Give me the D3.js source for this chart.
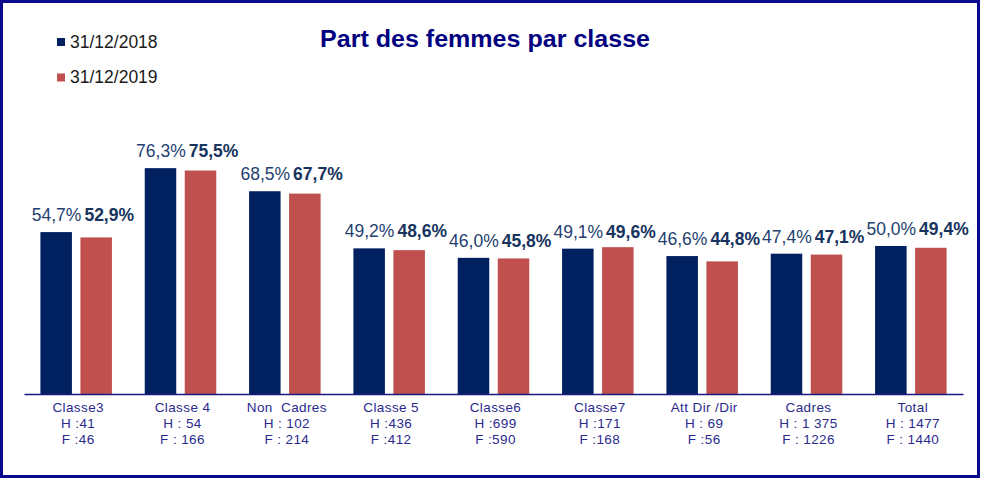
<!DOCTYPE html>
<html><head><meta charset="utf-8">
<script src="https://cdn.jsdelivr.net/npm/d3@7"></script>
<style>
html,body{margin:0;padding:0;background:#fff;}
svg{display:block;font-family:Arial,"Liberation Sans",sans-serif;}
</style></head>
<body>
<svg id="c" width="985" height="479"></svg>
<script>
const categories = ["Classe3","Classe 4","Non  Cadres","Classe 5","Classe6","Classe7","Att Dir /Dir","Cadres","Total"];
const hommes = ["H :41","H : 54","H : 102","H :436","H :699","H :171","H : 69","H : 1 375","H : 1477"];
const femmes = ["F :46","F : 166","F : 214","F :412","F :590","F :168","F :56","F : 1226","F : 1440"];
const series = ["31/12/2018","31/12/2019"];
const values2018 = [54.7,76.3,68.5,49.2,46.0,49.1,46.6,47.4,50.0];
const values2019 = [52.9,75.5,67.7,48.6,45.8,49.6,44.8,47.1,49.4];
const title = "Part des femmes par classe";

const colors = ["#002060","#C0504D"];
const svg = d3.select("#c");
const fmt = v => d3.format(".1f")(v).replace(".", ",") + "%";

// border
svg.append("rect").attr("x",1.5).attr("y",1.5).attr("width",977).attr("height",475)
  .attr("fill","#fff").attr("stroke","#0a0a8c").attr("stroke-width",3);

const x0 = d3.scaleBand().domain(categories).range([24,963]).paddingInner(0).paddingOuter(0);
const x1 = d3.scaleBand().domain(series).range([0,x0.bandwidth()]).paddingInner(0.2125).paddingOuter(0.41);
const y = d3.scaleLinear().domain([0,100]).range([394,98]);

const data = categories.map((c,i)=>({c, v:[values2018[i],values2019[i]], h:hommes[i], f:femmes[i]}));

const g = svg.selectAll("g.cat").data(data).enter().append("g").attr("class","cat")
  .attr("transform", d=>`translate(${x0(d.c)},0)`);

g.selectAll("rect").data(d=>d.v.map((v,j)=>({s:series[j],v,j}))).enter().append("rect")
  .attr("x", d=>x1(d.s)).attr("width", x1.bandwidth())
  .attr("y", d=>y(d.v)).attr("height", d=>y(0)-y(d.v))
  .attr("fill", d=>colors[d.j]);

// value labels
g.append("text").attr("x", x1(series[1])+1).attr("y", d=>y(d.v[0])-11)
  .attr("text-anchor","end").attr("font-size",17.5).attr("fill","#243f70")
  .text(d=>fmt(d.v[0]));
g.append("text").attr("x", x1(series[1])+4).attr("y", d=>y(d.v[0])-11)
  .attr("text-anchor","start").attr("font-size",17.5).attr("font-weight","bold").attr("fill","#17335e")
  .text(d=>fmt(d.v[1]));

// axis
const ax = svg.append("g").attr("transform","translate(0,394)")
  .call(d3.axisBottom(x0).tickSize(0).tickFormat(""));
ax.select(".domain").attr("stroke","#1a1a80").attr("stroke-width",1.5);

// category labels
const lab = g.append("text").attr("text-anchor","middle").attr("font-size",13.5)
  .attr("letter-spacing",0.4).style("white-space","pre").attr("fill","#2a2a8e");
lab.append("tspan").attr("x", x0.bandwidth()/2+2).attr("y",412).text(d=>d.c);
lab.append("tspan").attr("x", x0.bandwidth()/2+2).attr("y",428).text(d=>d.h);
lab.append("tspan").attr("x", x0.bandwidth()/2+2).attr("y",444).text(d=>d.f);

// title
svg.append("text").attr("x",320).attr("y",47).attr("font-size",23).attr("font-weight","bold")
  .attr("fill","#000080").attr("textLength",330).attr("lengthAdjust","spacingAndGlyphs").text(title);

// legend
const leg = svg.selectAll("g.leg").data(series).enter().append("g").attr("class","leg")
  .attr("transform",(d,i)=>`translate(57,${38+i*35.5})`);
leg.append("rect").attr("width",8).attr("height",8).attr("fill",(d,i)=>colors[i]);
leg.append("text").attr("x",13).attr("y",9.5).attr("font-size",17.5).attr("fill","#1a1a1a").text(d=>d);
</script>
</body></html>
